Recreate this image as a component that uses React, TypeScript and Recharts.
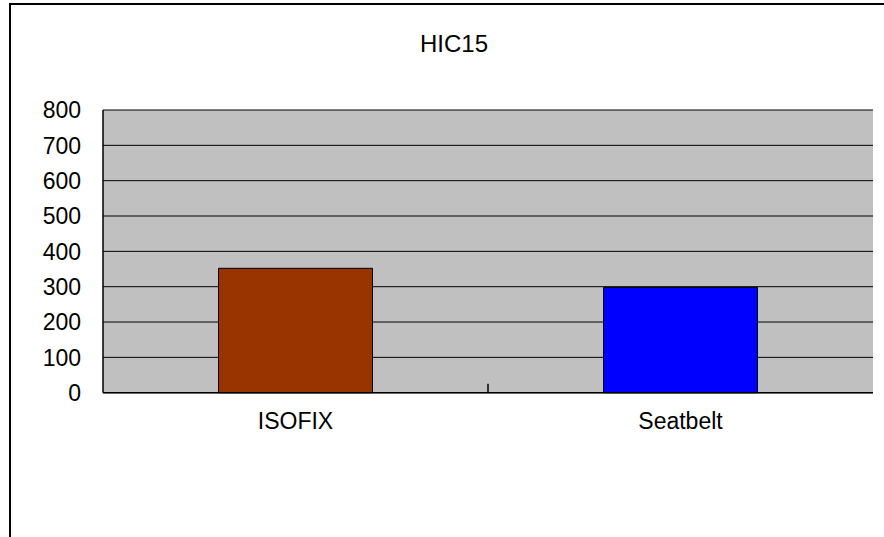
import React from 'react';
import { BarChart, Bar, XAxis, YAxis, CartesianGrid, Cell, Customized } from 'recharts';

const categories = ['ISOFIX', 'Seatbelt'];
const hic15Values = [352, 298];
const barColors = ['#993300', '#0000FF'];
const yTicks = [0, 100, 200, 300, 400, 500, 600, 700, 800];
const chartTitle = 'HIC15';

const data = categories.map((name, i) => ({ name, value: hic15Values[i] }));

const FONT = '"Liberation Sans", Arial, sans-serif';

const XTick = (props: any) => {
  const { x, y, payload, index, visibleTicksCount } = props;
  const off = payload && payload.offset ? payload.offset : 0;
  return (
    <g>
      <text x={x} y={y} dy="0.71em" textAnchor="middle" fontSize={23} fontFamily={FONT} fill="#000">
        {payload.value}
      </text>
      {index < (visibleTicksCount ?? 2) - 1 && off > 0 ? (
        <line x1={x + off} x2={x + off} y1={y - 20} y2={y - 29} stroke="#000" strokeWidth={1.5} />
      ) : null}
    </g>
  );
};

const Title = () => (
  <text x={454} y={51.5} textAnchor="middle" fontSize={24} fontFamily={FONT} fill="#000">
    {chartTitle}
  </text>
);

export default function App() {
  return (
    <div style={{ position: 'absolute', left: 0, top: 0, width: 884, height: 537, background: '#fff' }}>
      <div
        style={{
          position: 'absolute',
          left: 9,
          top: 3,
          width: 875,
          height: 534,
          borderLeft: '2px solid #000',
          borderTop: '2px solid #000',
          boxSizing: 'border-box',
        }}
      />
      <div style={{ position: 'absolute', left: 0, top: 0 }}>
        <BarChart
          width={884}
          height={537}
          data={data}
          margin={{ top: 110, right: 11, bottom: 0, left: 43 }}
          barCategoryGap="30%"
        >
          <CartesianGrid
            vertical={false}
            fill="#C0C0C0"
            fillOpacity={1}
            stroke="#000"
            strokeOpacity={1}
            horizontalValues={yTicks}
          />
          <XAxis
            dataKey="name"
            height={144.3}
            tickLine={false}
            tickSize={0}
            tickMargin={20}
            axisLine={{ stroke: '#000', strokeWidth: 1.5 }}
            tick={<XTick />}
            interval={0}
          />
          <YAxis
            width={60}
            domain={[0, 800]}
            ticks={yTicks}
            tickLine={false}
            tickSize={0}
            tickMargin={22}
            axisLine={{ stroke: '#000', strokeWidth: 1.5 }}
            tick={{ fontSize: 23, fontFamily: FONT, fill: '#000' }}
            interval={0}
          />
          <Bar dataKey="value" stroke="#000" strokeWidth={1} isAnimationActive={false}>
            {data.map((d, i) => (
              <Cell key={d.name} fill={barColors[i]} />
            ))}
          </Bar>
          <Customized component={Title} />
        </BarChart>
      </div>
    </div>
  );
}
